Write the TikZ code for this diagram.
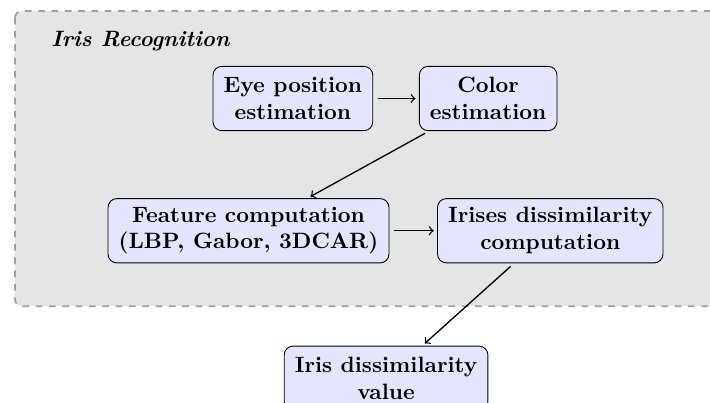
\documentclass[tikz,border=0pt]{standalone}
\usetikzlibrary{positioning}
\begin{document}
\begin{tikzpicture}[x=1pt,y=1pt,
  stage/.style={draw,rounded corners=4pt,fill=blue!10,align=center,
    font=\bfseries,inner xsep=4.8pt,inner ysep=3.5pt,minimum height=29pt},
  flow/.style={->,semithick,shorten <=2pt,shorten >=1.5pt}]
\useasboundingbox (0,0) rectangle (320,-181.5);
\clip (0,0) rectangle (320,-181.5);

% Group background
\draw[gray!75,thick,dashed,fill=gray!20,rounded corners=3pt]
  (6.8,-5) rectangle (340,-138);
\node[anchor=west,font=\bfseries\itshape] (title) at (19.6,-18.5) {Iris Recognition};

% Stages
\node[stage] (eye) at (132,-44.4) {Eye position\\estimation};
\node[stage] (color) at (220,-44.4) {Color\\estimation};
\node[stage] (feature) at (112,-104) {Feature computation\\(LBP, Gabor, 3DCAR)};
\node[stage] (irises) at (248,-104) {Irises dissimilarity\\computation};
\node[stage] (value) at (174,-170.5) {Iris dissimilarity\\value};

% Connections
\draw[flow] (eye) -- (color);
\draw[flow] (color) -- (feature);
\draw[flow] (feature) -- (irises);
\draw[flow] (irises) -- (value);

\end{tikzpicture}
\end{document}
